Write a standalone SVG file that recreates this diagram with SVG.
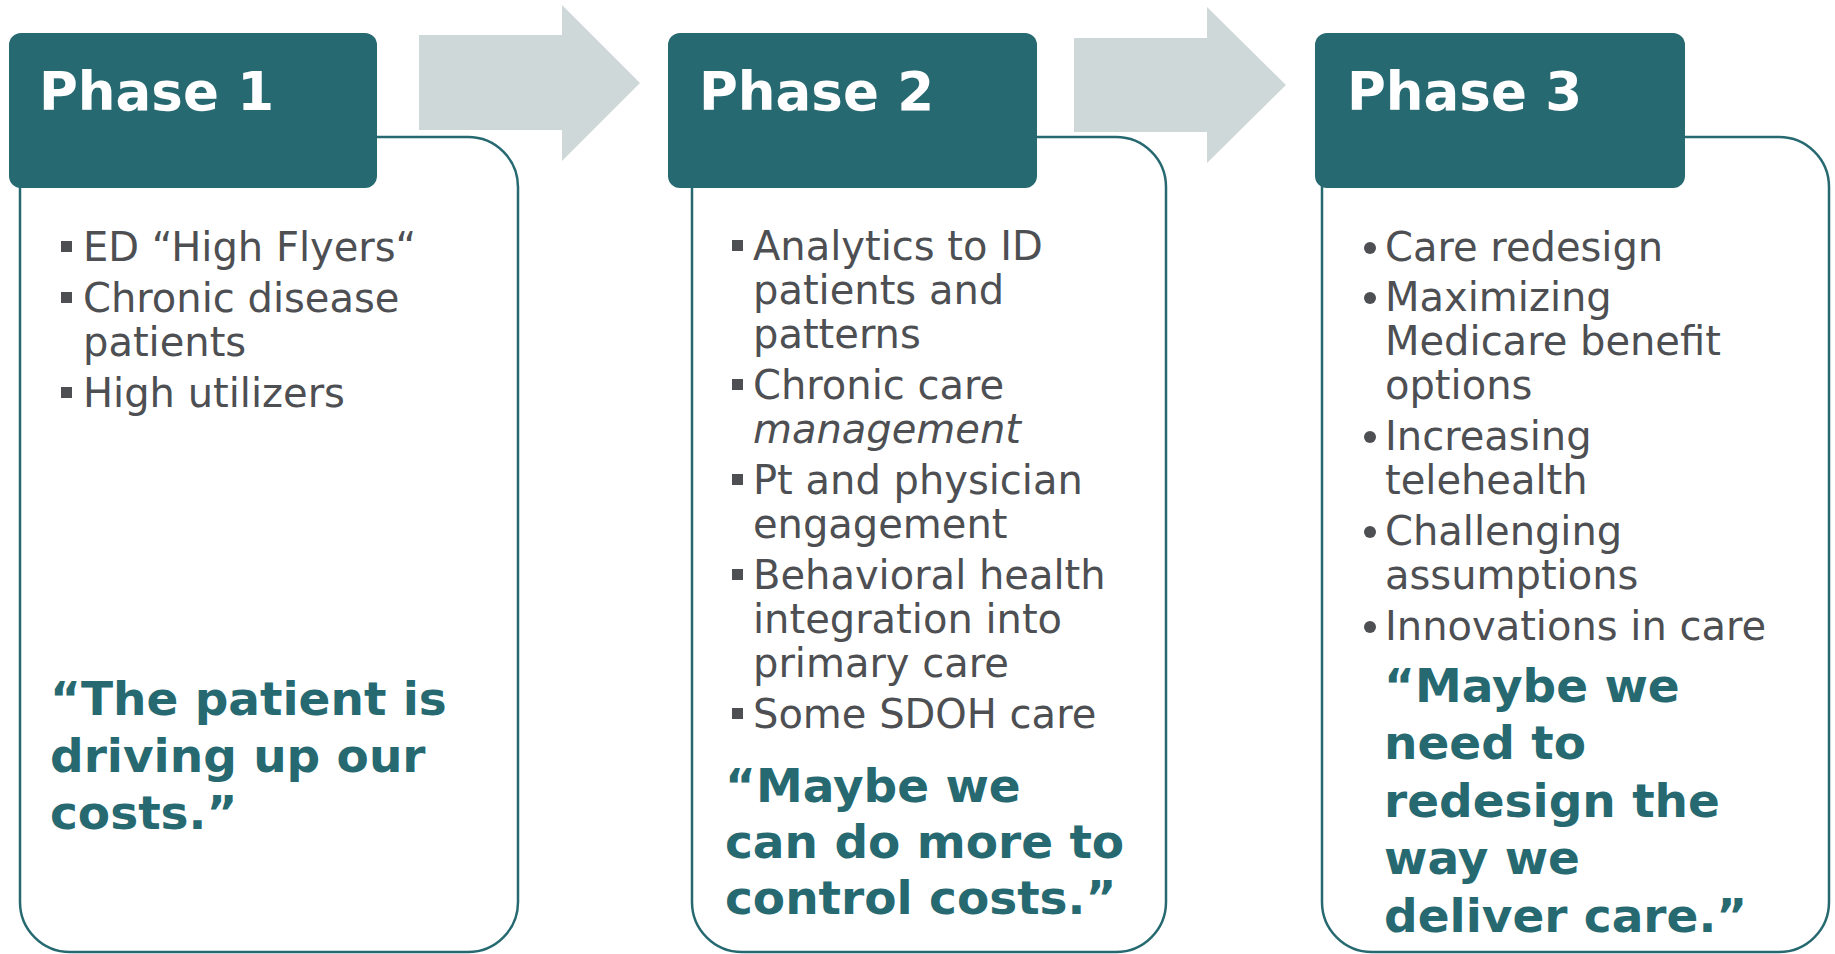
<svg xmlns="http://www.w3.org/2000/svg" width="1835" height="954" viewBox="0 0 1835 954">
<style>
.box{fill:#ffffff;stroke:#266970;stroke-width:2.5}
.hdr{fill:#266970}
.arrow{fill:#cfd8d9}
.title{font-family:"DejaVu Sans",Verdana,sans-serif;font-weight:bold;font-size:53px;fill:#ffffff}
.item{font-family:"DejaVu Sans",Verdana,sans-serif;font-size:40px;fill:#4d4f53}
.quote{font-family:"DejaVu Sans",Verdana,sans-serif;font-weight:bold;font-size:47px;fill:#266970}
.sq{fill:#4d4f53}
</style>
<rect width="1835" height="954" fill="#ffffff"/>
<g id="connectors">
<polygon class="arrow" points="419,35 562,35 562,5 640,83 562,161 562,130 419,130"/>
<polygon class="arrow" points="1074,38 1207,38 1207,7 1286,85 1207,163 1207,132 1074,132"/>
</g>
<g id="phase1">
<rect class="box" x="20" y="137" width="498" height="815" rx="50" ry="50"/>
<rect class="hdr" x="9" y="33" width="368" height="155" rx="12" ry="12"/>
<text class="title" x="39" y="110">Phase 1</text>
<rect class="sq" x="61" y="241" width="11" height="11"/>
<text class="item" x="83" y="261">ED “High Flyers“</text>
<rect class="sq" x="61" y="292" width="11" height="11"/>
<text class="item" x="83" y="312">Chronic disease</text>
<text class="item" x="83" y="356">patients</text>
<rect class="sq" x="61" y="387" width="11" height="11"/>
<text class="item" x="83" y="407">High utilizers</text>
<text class="quote" x="50" y="715">“The patient is</text>
<text class="quote" x="50" y="772">driving up our</text>
<text class="quote" x="50" y="829">costs.”</text>
</g>
<g id="phase2">
<rect class="box" x="692" y="137" width="474" height="815" rx="50" ry="50"/>
<rect class="hdr" x="668" y="33" width="369" height="155" rx="12" ry="12"/>
<text class="title" x="699" y="110">Phase 2</text>
<rect class="sq" x="732" y="240" width="11" height="11"/>
<text class="item" x="753" y="260">Analytics to ID</text>
<text class="item" x="753" y="304">patients and</text>
<text class="item" x="753" y="348">patterns</text>
<rect class="sq" x="732" y="379" width="11" height="11"/>
<text class="item" x="753" y="399">Chronic care</text>
<text class="item" x="753" y="443" font-style="italic">management</text>
<rect class="sq" x="732" y="474" width="11" height="11"/>
<text class="item" x="753" y="494">Pt and physician</text>
<text class="item" x="753" y="538">engagement</text>
<rect class="sq" x="732" y="569" width="11" height="11"/>
<text class="item" x="753" y="589">Behavioral health</text>
<text class="item" x="753" y="633">integration into</text>
<text class="item" x="753" y="677">primary care</text>
<rect class="sq" x="732" y="708" width="11" height="11"/>
<text class="item" x="753" y="728">Some SDOH care</text>
<text class="quote" x="725" y="802">“Maybe we</text>
<text class="quote" x="725" y="858">can do more to</text>
<text class="quote" x="725" y="914">control costs.”</text>
</g>
<g id="phase3">
<rect class="box" x="1322" y="137" width="507" height="815" rx="50" ry="50"/>
<rect class="hdr" x="1315" y="33" width="370" height="155" rx="12" ry="12"/>
<text class="title" x="1347" y="110">Phase 3</text>
<circle class="sq" cx="1370" cy="248" r="6"/>
<text class="item" x="1385" y="261">Care redesign</text>
<circle class="sq" cx="1370" cy="298" r="6"/>
<text class="item" x="1385" y="311">Maximizing</text>
<text class="item" x="1385" y="355">Medicare benefit</text>
<text class="item" x="1385" y="399">options</text>
<circle class="sq" cx="1370" cy="437" r="6"/>
<text class="item" x="1385" y="450">Increasing</text>
<text class="item" x="1385" y="494">telehealth</text>
<circle class="sq" cx="1370" cy="532" r="6"/>
<text class="item" x="1385" y="545">Challenging</text>
<text class="item" x="1385" y="589">assumptions</text>
<circle class="sq" cx="1370" cy="627" r="6"/>
<text class="item" x="1385" y="640">Innovations in care</text>
<text class="quote" x="1384" y="702">“Maybe we</text>
<text class="quote" x="1384" y="759">need to</text>
<text class="quote" x="1384" y="817">redesign the</text>
<text class="quote" x="1384" y="874">way we</text>
<text class="quote" x="1384" y="932">deliver care.”</text>
</g>
</svg>
